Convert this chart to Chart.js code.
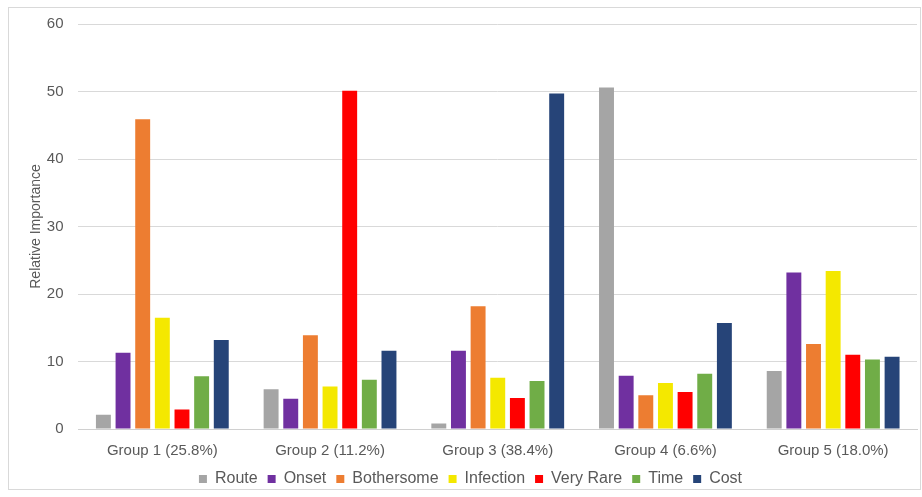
<!DOCTYPE html>
<html>
<head>
<meta charset="utf-8">
<script src="https://cdn.jsdelivr.net/npm/chart.js@4.4.0/dist/chart.umd.min.js"></script>
<style>
  html, body { margin: 0; padding: 0; background: #fff; }
  #wrap { position: absolute; left: 0; top: 0; width: 922px; height: 497px; }
</style>
</head>
<body>
<div id="wrap"><canvas id="myChart" width="922" height="497"></canvas></div>
<script>
'use strict';

// category labels along the x axis
var groups = ["Group 1 (25.8%)", "Group 2 (11.2%)", "Group 3 (38.4%)", "Group 4 (6.6%)", "Group 5 (18.0%)"];

// one array per attribute, values per group
var route      = [2.1, 5.9, 0.8, 50.6, 8.6];
var onset      = [11.3, 4.5, 11.6, 7.9, 23.2];
var bothersome = [45.9, 13.9, 18.2, 5.0, 12.6];
var infection  = [16.5, 6.3, 7.6, 6.8, 23.4];
var veryRare   = [2.9, 50.1, 4.6, 5.5, 11.0];
var time       = [7.8, 7.3, 7.1, 8.2, 10.3];
var cost       = [13.2, 11.6, 49.7, 15.7, 10.7];

var yTicks = [0, 10, 20, 30, 40, 50, 60];

var textColor = "#595959";

// white background plus the thin frame round the chart
var frame = {
	id: "frame",
	beforeDraw: function(chart) {
		var c = chart.ctx;
		c.save();
		c.fillStyle = "#fff";
		c.fillRect(0, 0, chart.width, chart.height);
		c.strokeStyle = "#d9d9d9";
		c.lineWidth = 1;
		c.strokeRect(8.5, 7.5, 912, 482);
		c.restore();
	}
};

function series(label, data, color) {
	return { label: label, data: data, backgroundColor: color, borderWidth: 0,
		barPercentage: 0.76, categoryPercentage: 0.82 };
}

var ctx = document.getElementById("myChart");
var chart = new Chart(ctx, {
	type: "bar",
	data: {
		labels: groups,
		datasets: [
			series("Route", route, "#a5a5a5"),
			series("Onset", onset, "#7030a0"),
			series("Bothersome", bothersome, "#ed7d31"),
			series("Infection", infection, "#f4e800"),
			series("Very Rare", veryRare, "#ff0000"),
			series("Time", time, "#70ad47"),
			series("Cost", cost, "#264478")
		]
	},
	options: {
		responsive: false,
		animation: false,
		layout: { padding: { left: 24, right: 5, top: 11, bottom: 0 } },
		plugins: {
			legend: {
				position: "bottom",
				labels: { color: textColor, font: { family: "Liberation Sans", size: 16 },
					boxWidth: 8, boxHeight: 8, padding: 10 }
			},
			tooltip: { enabled: false }
		},
		scales: {
			x: {
				grid: { display: false, tickLength: 12 },
				border: { color: "#d0d0d0" },
				ticks: { color: textColor, font: { family: "Liberation Sans", size: 15 }, padding: 1 }
			},
			y: {
				min: 0, max: 60,
				afterBuildTicks: function(axis) { axis.ticks = yTicks.map(function(v) { return { value: v }; }); },
				grid: { color: "#d9d9d9", drawTicks: false },
				border: { display: false },
				ticks: { color: textColor, font: { family: "Liberation Sans", size: 15 }, padding: 15 },
				title: { display: true, text: "Relative Importance", color: textColor,
					font: { family: "Liberation Sans", size: 14 }, padding: { top: 4, bottom: -13 } }
			}
		}
	},
	plugins: [frame]
});
</script>
</body>
</html>
